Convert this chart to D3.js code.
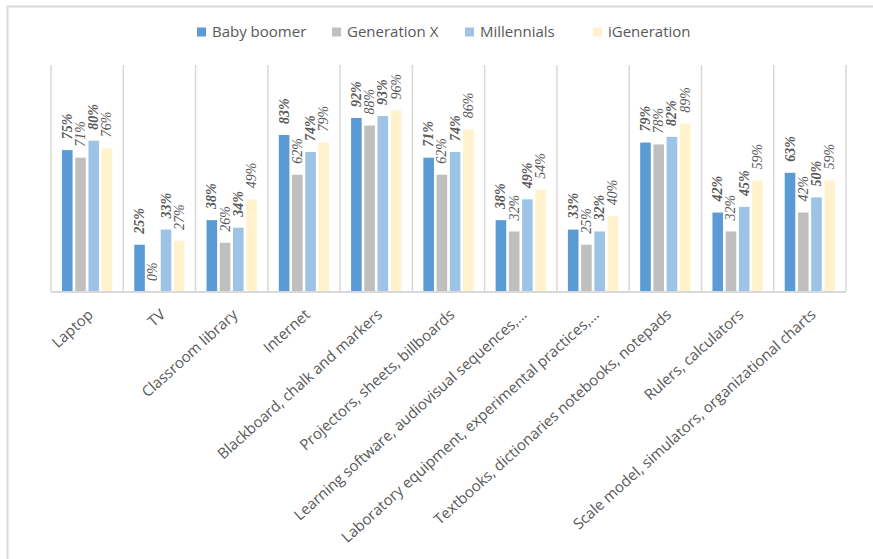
<!DOCTYPE html>
<html>
<head>
<meta charset="utf-8">
<script src="https://cdn.jsdelivr.net/npm/d3@7"></script>
<style>
  body { margin: 0; background: #fff; }
  svg { display: block; }
</style>
</head>
<body>
<div id="chart"></div>
<script>
// data
const categories = ["Laptop", "TV", "Classroom library", "Internet", "Blackboard, chalk and markers",
  "Projectors, sheets, billboards", "Learning software, audiovisual sequences,…",
  "Laboratory equipment, experimental practices,…", "Textbooks, dictionaries notebooks, notepads",
  "Rulers, calculators", "Scale model, simulators, organizational charts"];
const seriesNames = ["Baby boomer", "Generation X", "Millennials", "iGeneration"];
const babyBoomer  = [75, 25, 38, 83, 92, 71, 38, 33, 79, 42, 63];
const generationX = [71, 0, 26, 62, 88, 62, 32, 25, 78, 32, 42];
const millennials = [80, 33, 34, 74, 93, 74, 49, 32, 82, 45, 50];
const iGeneration = [76, 27, 49, 79, 96, 86, 54, 40, 89, 59, 59];
const seriesValues = [babyBoomer, generationX, millennials, iGeneration];

const colors = ["#5b9bd5", "#bfbfbf", "#9dc3e6", "#fff2cc"];
const boldSeries = [true, false, true, false];

const W = 873, H = 559;
const plot = {left: 51, right: 846, top: 65, bottom: 292};

const svg = d3.select("#chart").append("svg")
  .attr("width", W).attr("height", H);

// outer frame (left + top only)
svg.append("path")
  .attr("d", `M7.5,${H} V6.5 H${W}`)
  .attr("fill", "none")
  .attr("stroke", "#d9d9d9")
  .attr("stroke-width", 2);

const x0 = d3.scaleBand()
  .domain(categories)
  .range([plot.left, plot.right])
  .padding(0);

const x1 = d3.scaleBand()
  .domain(seriesNames)
  .range([11, x0.bandwidth() - 11])
  .paddingInner(0.2);

const y = d3.scaleLinear()
  .domain([0, 120])
  .range([plot.bottom, plot.top]);

// vertical separators
const sepX = categories.map(c => x0(c)).concat([plot.right]);
svg.append("g")
  .selectAll("line")
  .data(sepX)
  .join("line")
  .attr("x1", d => d).attr("x2", d => d)
  .attr("y1", plot.top).attr("y2", plot.bottom)
  .attr("stroke", "#d9d9d9")
  .attr("stroke-width", 1.5);

// bars
const groups = svg.append("g")
  .selectAll("g")
  .data(categories)
  .join("g")
  .attr("transform", d => `translate(${x0(d)},0)`);

groups.selectAll("rect")
  .data((c, i) => seriesNames.map((s, j) => ({s, j, v: seriesValues[j][i]})))
  .join("rect")
  .attr("x", d => x1(d.s))
  .attr("width", x1.bandwidth())
  .attr("y", d => y(d.v))
  .attr("height", d => y(0) - y(d.v))
  .attr("fill", d => colors[d.j]);

// value labels, rotated
groups.selectAll("text")
  .data((c, i) => seriesNames.map((s, j) => ({s, j, v: seriesValues[j][i]})))
  .join("text")
  .attr("transform", d => `translate(${x1(d.s) + x1.bandwidth() / 2 + 4.5},${y(d.v) - 11}) rotate(-90)`)
  .attr("font-family", "'Liberation Serif', 'Times New Roman', serif")
  .attr("font-size", 14)
  .attr("font-style", "italic")
  .attr("font-weight", d => boldSeries[d.j] ? "bold" : "normal")
  .attr("fill", "#595959")
  .text(d => d.v + "%");

// x axis
const xAxis = d3.axisBottom(x0).tickSize(0).tickPadding(0);
const gx = svg.append("g")
  .attr("transform", `translate(0,${plot.bottom})`)
  .call(xAxis);
gx.select(".domain")
  .attr("stroke", "#d9d9d9")
  .attr("stroke-width", 2)
  .attr("d", `M${plot.left},0H${plot.right}`);
gx.selectAll(".tick text")
  .attr("font-family", "'Open Sans', sans-serif")
  .attr("font-size", 15)
  .attr("fill", "#595959")
  .attr("text-anchor", "end")
  .attr("y", 0)
  .attr("dy", 0)
  .attr("transform", "translate(7,24) rotate(-42)");

// legend
const legendX = [197, 332, 465, 593];
const legend = svg.append("g")
  .selectAll("g")
  .data(seriesNames)
  .join("g")
  .attr("transform", (d, i) => `translate(${legendX[i]},32)`);
legend.append("rect")
  .attr("x", 0).attr("y", -4.5)
  .attr("width", 9).attr("height", 9)
  .attr("fill", (d, i) => colors[i]);
legend.append("text")
  .attr("x", 15)
  .attr("dy", "0.35em")
  .attr("font-family", "'Open Sans', sans-serif")
  .attr("font-size", 15)
  .attr("fill", "#595959")
  .text(d => d);
</script>
</body>
</html>
